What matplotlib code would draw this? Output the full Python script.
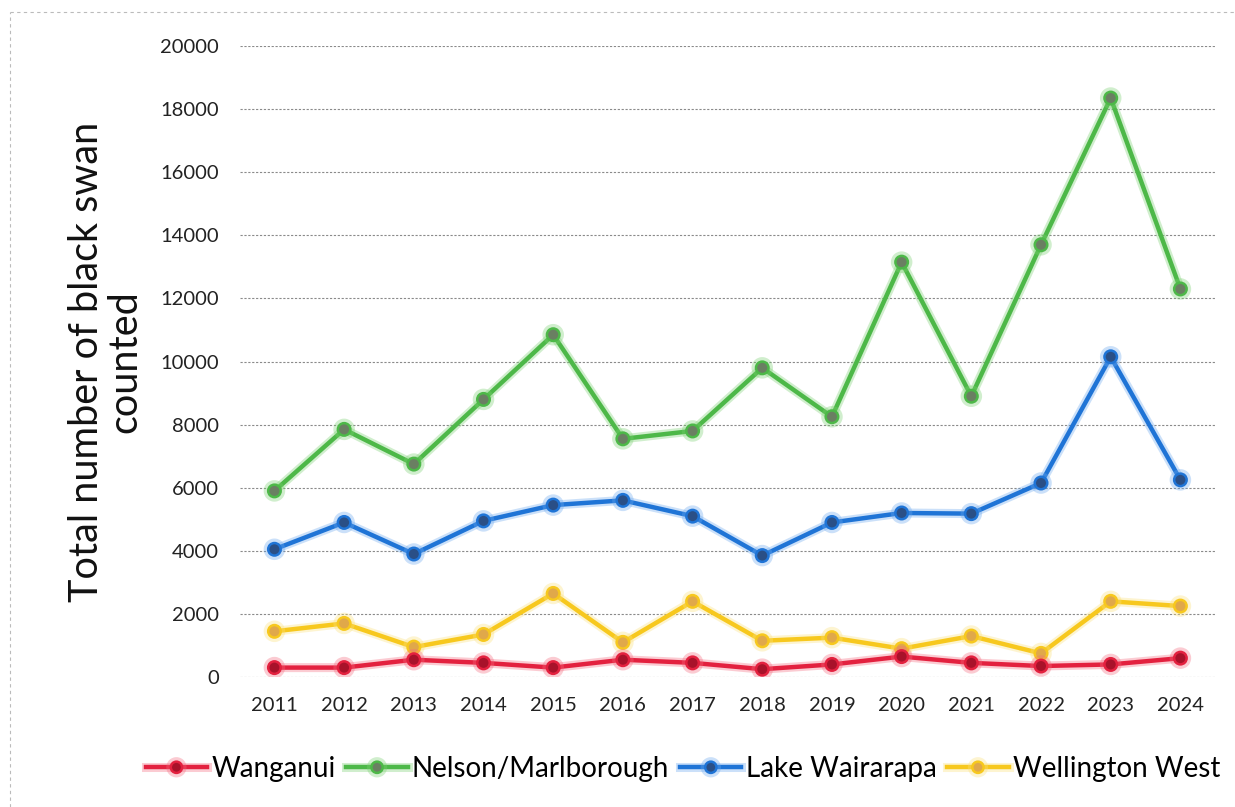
import matplotlib
matplotlib.use("Agg")
import matplotlib.pyplot as plt
from matplotlib.lines import Line2D
import matplotlib.patheffects as pe

years = [2011, 2012, 2013, 2014, 2015, 2016, 2017, 2018, 2019, 2020, 2021, 2022, 2023, 2024]
wanganui = [300, 300, 550, 450, 300, 550, 450, 250, 400, 650, 450, 350, 400, 600]
nelson = [5900, 7850, 6750, 8800, 10850, 7550, 7800, 9800, 8250, 13150, 8900, 13700, 18350, 12300]
wairarapa = [4050, 4900, 3900, 4950, 5450, 5600, 5100, 3850, 4900, 5200, 5180, 6150, 10150, 6250]
wellington = [1450, 1700, 950, 1350, 2650, 1100, 2400, 1150, 1250, 900, 1300, 750, 2400, 2250]

series_names = ["Wanganui", "Nelson/Marlborough", "Lake Wairarapa", "Wellington West"]
yticks = [0, 2000, 4000, 6000, 8000, 10000, 12000, 14000, 16000, 18000, 20000]

plt.rcParams['font.family'] = ['Lato', 'DejaVu Sans']

fig = plt.figure(figsize=(12.35, 8.07), dpi=100)
ax = fig.add_axes([0.194, 0.161, 0.790, 0.782])

styles = [
    (wanganui, "#e3213f", "#a8122a", "#f56a7e"),
    (nelson, "#4db848", "#6a7f62", "#7ad070"),
    (wairarapa, "#1f74d6", "#2a4f86", "#6aa8ee"),
    (wellington, "#f7c81e", "#e0a84a", "#fbe07a"),
]
handles = []
for i, (vals, lc, mfc, glow) in enumerate(styles):
    ln, = ax.plot(years, vals, color=lc, lw=3.2, marker='o', ms=9,
                  markerfacecolor=mfc, markeredgecolor=lc, markeredgewidth=1.8,
                  zorder=3 + (3 - i) * 0.1,
                  path_effects=[pe.Stroke(linewidth=6.5, foreground=glow, alpha=0.35), pe.Normal()])
    handles.append(ln)

ax.set_xlim(2010.5, 2024.5)
ax.set_ylim(0, 20000)
ax.set_yticks(yticks)
ax.set_yticklabels([str(t) for t in yticks])
ax.set_xticks(years)
ax.set_xticklabels([str(y) for y in years])
ax.tick_params(axis='both', length=0, labelsize=14.5, colors='#222222')
ax.tick_params(axis='y', pad=15)
ax.tick_params(axis='x', pad=14)
ax.grid(axis='y', color='#8a8a8a', linestyle=(0, (2, 1.5)), linewidth=0.8, zorder=0)
for s in ax.spines.values():
    s.set_visible(False)

ax.set_ylabel("Total number of black swan\ncounted", fontsize=28.5, color='#111111', labelpad=12,
              linespacing=1.05)

leg = fig.legend(handles, series_names, loc='lower center', bbox_to_anchor=(0.553, 0.0),
                 ncol=4, frameon=False, fontsize=20, handlelength=2.2, handletextpad=0.15,
                 columnspacing=0.4, markerscale=0.9)

# faint scan border
fig.add_artist(Line2D([0.008, 0.008], [0.0, 0.985], transform=fig.transFigure,
                      color='#bbbbbb', lw=0.8, linestyle=(0, (3, 3))))
fig.add_artist(Line2D([0.008, 1.0], [0.985, 0.985], transform=fig.transFigure,
                      color='#bbbbbb', lw=0.8, linestyle=(0, (3, 3))))

fig.savefig("out.png", dpi=100)
